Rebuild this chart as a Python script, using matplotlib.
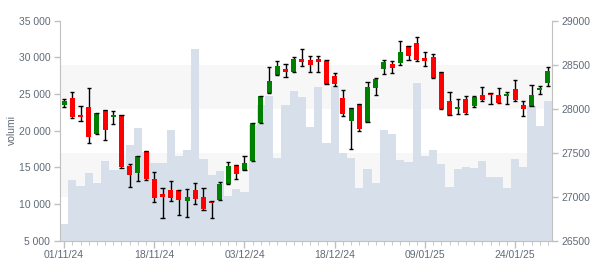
import matplotlib
matplotlib.use('Agg')
import matplotlib.pyplot as plt
import matplotlib.transforms as mtransforms
from matplotlib.patches import Rectangle
import numpy as np
import pandas as pd

plt.rcParams['font.family'] = ['Liberation Sans', 'DejaVu Sans']

# giorni di borsa (esclusi i festivi di Borsa Italiana)
holidays = ['2024-12-24', '2024-12-25', '2024-12-26', '2024-12-31', '2025-01-01']
dates = [d for d in pd.bdate_range('2024-11-01', '2025-01-30')
         if d.strftime('%Y-%m-%d') not in holidays]

opens = [28042, 28122, 27932, 28020, 27716, 27986, 27906, 27929, 27349, 27273,
         27520, 27202, 27031, 27077, 27077, 26955, 27073, 26997, 26952, 26960,
         27148, 27361, 27307, 27410, 27841, 28182, 28387, 28448, 28421, 28565,
         28554, 28565, 28542, 28372, 28122, 27864, 28054, 27853, 28239, 28455,
         28512, 28523, 28713, 28747, 28576, 28588, 28417, 28088, 28000, 28110,
         28031, 28156, 28179, 28159, 28141, 28224, 28039, 28035, 28216, 28289]
highs = [28107, 28187, 28031, 28232, 27955, 27986, 27974, 27929, 27372, 27463,
         27520, 27281, 27096, 27176, 27077, 27085, 27153, 27096, 26952, 27164,
         27391, 27361, 27460, 27841, 28145, 28471, 28539, 28508, 28584, 28675,
         28599, 28599, 28550, 28402, 28209, 28008, 28054, 28300, 28345, 28550,
         28542, 28769, 28713, 28818, 28648, 28622, 28417, 28190, 28110, 28145,
         28148, 28243, 28179, 28232, 28187, 28323, 28084, 28273, 28262, 28474]
lows = [28023, 27891, 27864, 27607, 27712, 27648, 27826, 27330, 27107, 27182,
        27195, 26944, 26755, 26948, 26789, 26770, 26918, 26846, 26755, 26960,
        27148, 27198, 27307, 27410, 27841, 28182, 28380, 28357, 28421, 28482,
        28421, 28421, 28284, 28262, 27921, 27539, 27744, 27853, 28152, 28391,
        28409, 28493, 28550, 28542, 28482, 28349, 28000, 27932, 27937, 27940,
        28020, 28088, 28050, 28068, 28050, 28084, 27914, 28035, 28171, 28258]
closes = [28088, 27909, 27909, 27682, 27951, 27762, 27925, 27338, 27251, 27463,
          27202, 26989, 27001, 26989, 26967, 26994, 26978, 26864, 26933, 27145,
          27349, 27262, 27383, 27841, 28145, 28315, 28485, 28421, 28565, 28534,
          28500, 28531, 28284, 28281, 27944, 28008, 27770, 28247, 28338, 28531,
          28466, 28644, 28602, 28550, 28546, 28349, 28000, 27932, 28020, 27955,
          28130, 28103, 28159, 28068, 28171, 28103, 27993, 28156, 28232, 28425]
volumes = [7280, 13280, 12460, 14280, 12910, 15870, 14640, 14640, 18050, 20410,
           17100, 15600, 15640, 20100, 16550, 17370, 31150, 16140, 13960, 14500,
           11100, 12050, 11640, 20780, 23510, 24740, 16320, 23510, 25420, 24600,
           20510, 25970, 18320, 26100, 16960, 16280, 12190, 14780, 12870, 20100,
           19550, 16010, 15730, 26550, 16550, 17370, 15460, 12330, 14780, 15050,
           14920, 15870, 13690, 13690, 12190, 16140, 15050, 23370, 20640, 24100]

grey = '#c0c0c0'
text_col = '#606b78'

fig = plt.figure(figsize=(6, 2.7), dpi=100)
ax = fig.add_axes([0.1, 0.1085, 0.82, 0.815])
ax2 = ax.twinx()

x = np.arange(len(dates))

# volumi sullo sfondo
ax.bar(x, volumes, width=1.0, color='#d7e0ea', linewidth=0, zorder=2)
ax.set_xlim(-0.5, len(dates) - 0.5)
ax.set_ylim(5000, 35000)
ax2.set_ylim(26500, 29000)

# bande alternate sull'asse dei prezzi
trans = mtransforms.blended_transform_factory(ax.transAxes, ax2.transData)
for lo, hi in [(27000, 27500), (28000, 28500)]:
    ax.add_patch(Rectangle((0, lo), 1, hi - lo, transform=trans,
                           facecolor='#f7f7f7', linewidth=0, zorder=1))

# candele
o = np.array(opens)
c = np.array(closes)
up = c >= o
colors = np.where(up, '#008000', '#ff0000')
bottom = np.minimum(o, c)
height = np.maximum(np.abs(c - o), 20)
ax2.vlines(x, lows, highs, color='black', linewidth=1, zorder=2)
ax2.bar(x, height, bottom=bottom, width=0.62, color=colors, linewidth=0, zorder=3)
ax2.hlines(highs, x - 0.25, x + 0.25, color='black', linewidth=1, zorder=4)
ax2.hlines(lows, x - 0.25, x + 0.25, color='black', linewidth=1, zorder=4)

# assi
ax.set_yticks(range(5000, 35001, 5000))
ax.set_yticklabels([f'{v:,}'.replace(',', ' ') for v in range(5000, 35001, 5000)])
ax2.set_yticks(range(26500, 29001, 500))
major = list(range(0, len(dates), 11))
ax.set_xticks(major)
ax.set_xticklabels([dates[i].strftime('%d/%m/%y') for i in major])
ax.set_xticks(x, minor=True)

for a in (ax, ax2):
    a.spines['top'].set_visible(False)
    for s in a.spines.values():
        s.set_color(grey)
    a.tick_params(colors=grey, labelcolor=text_col, labelsize=7.5, width=1)
ax.spines['right'].set_visible(False)
ax2.spines['left'].set_visible(False)
ax2.spines['bottom'].set_visible(False)
ax.tick_params(axis='y', length=4, pad=3)
ax2.tick_params(axis='y', length=4, pad=3)
ax.tick_params(axis='x', which='major', length=5, pad=2)
ax.tick_params(axis='x', which='minor', length=3, color=grey)

fig.text(12 / 600, 0.52, 'volumi', rotation=90, ha='center', va='center',
         color=text_col, fontsize=7.5)

fig.savefig('out.png', dpi=100)
